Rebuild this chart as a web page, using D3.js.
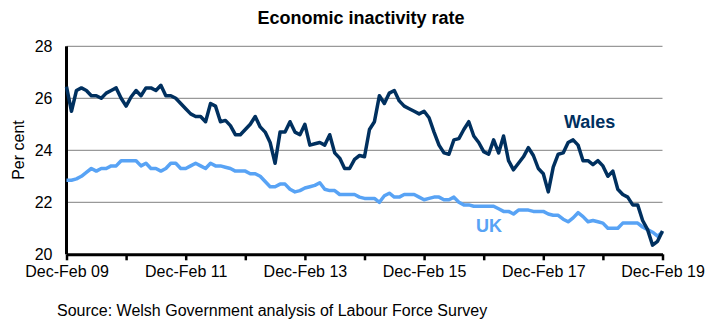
<!DOCTYPE html>
<html>
<head>
<meta charset="utf-8">
<script src="https://cdn.jsdelivr.net/npm/d3@7/dist/d3.min.js"></script>
<style>
  html, body { margin: 0; padding: 0; background: #fff; }
  svg { display: block; font-family: "Liberation Sans", Arial, sans-serif; }
</style>
</head>
<body>
<svg id="chart" width="716" height="333"></svg>
<script>
// Monthly rolling quarters, Dec-Feb 09 to Dec-Feb 19 (index 0..120)
const xTickLabels = ["Dec-Feb 09", "Dec-Feb 11", "Dec-Feb 13", "Dec-Feb 15", "Dec-Feb 17", "Dec-Feb 19"];
const yTicks = [20, 22, 24, 26, 28];

const wales = [
  26.45, 25.5, 26.3, 26.4, 26.3, 26.1, 26.1, 26.0, 26.2, 26.3, 26.4, 26.0,
  25.7, 26.05, 26.3, 26.1, 26.4, 26.4, 26.3, 26.5, 26.1, 26.1, 26.0, 25.8,
  25.6, 25.4, 25.3, 25.3, 25.1, 25.8, 25.7, 25.1, 25.15, 24.95, 24.6, 24.6,
  24.8, 25.0, 25.3, 24.9, 24.7, 24.3, 23.5, 24.7, 24.7, 25.1, 24.7, 24.6,
  25.0, 24.2, 24.25, 24.3, 24.2, 24.6, 23.9, 23.7, 23.3, 23.3, 23.65, 23.8,
  23.75, 24.8, 25.1, 26.1, 25.8, 26.2, 26.3, 25.9, 25.7, 25.6, 25.5, 25.4,
  25.5, 25.25, 24.7, 24.2, 23.9, 23.85, 24.4, 24.45, 24.8, 25.1, 24.55, 24.3,
  23.95, 23.85, 24.4, 23.9, 24.55, 23.6, 23.25, 23.5, 23.75, 24.1, 23.8, 23.3,
  23.1, 22.4, 23.35, 23.85, 23.9, 24.3, 24.4, 24.2, 23.6, 23.6, 23.45, 23.6,
  23.4, 23.0, 23.2, 22.5, 22.3, 22.2, 21.9, 21.9, 21.3, 20.95, 20.35, 20.5,
  20.9
];

const uk = [
  22.85, 22.85, 22.9, 23.0, 23.15, 23.3, 23.2, 23.3, 23.3, 23.4, 23.4, 23.6,
  23.6, 23.6, 23.6, 23.4, 23.5, 23.3, 23.3, 23.2, 23.3, 23.5, 23.5, 23.3,
  23.3, 23.4, 23.5, 23.4, 23.3, 23.5, 23.4, 23.4, 23.35, 23.3, 23.2, 23.2,
  23.2, 23.1, 23.1, 23.0, 22.8, 22.6, 22.6, 22.7, 22.7, 22.5, 22.4, 22.45,
  22.55, 22.6, 22.65, 22.75, 22.5, 22.45, 22.45, 22.3, 22.3, 22.3, 22.3, 22.2,
  22.15, 22.15, 22.15, 22.0, 22.25, 22.35, 22.2, 22.2, 22.3, 22.3, 22.3, 22.2,
  22.1, 22.15, 22.2, 22.2, 22.1, 22.1, 22.2, 22.0, 21.9, 21.9, 21.85, 21.85,
  21.85, 21.85, 21.85, 21.75, 21.65, 21.65, 21.55, 21.7, 21.7, 21.7, 21.65, 21.65,
  21.65, 21.55, 21.5, 21.5, 21.35, 21.25, 21.4, 21.6, 21.45, 21.25, 21.3, 21.25,
  21.2, 21.0, 21.0, 21.0, 21.2, 21.2, 21.2, 21.2, 21.05, 20.95, 20.85, 20.7,
  20.85
];

const svg = d3.select("#chart");
const plotLeft = 66.5, plotRight = 662.5, plotTop = 46.3, plotBottom = 254.3;

const x = d3.scaleLinear().domain([0, wales.length - 1]).range([plotLeft, plotRight]);
const y = d3.scaleLinear().domain([20, 28]).range([plotBottom, plotTop]);

// Title
svg.append("text")
  .attr("x", 361).attr("y", 24)
  .attr("text-anchor", "middle")
  .attr("font-size", 18).attr("font-weight", "bold")
  .attr("fill", "#000")
  .text("Economic inactivity rate");

// Gridlines
svg.append("g")
  .selectAll("line")
  .data(yTicks.filter(d => d > 20))
  .join("line")
  .attr("x1", plotLeft).attr("x2", plotRight)
  .attr("y1", d => y(d)).attr("y2", d => y(d))
  .attr("stroke", "#808080").attr("stroke-width", 1);

// Y axis labels
const yAxis = d3.axisLeft(y).tickValues(yTicks).tickSize(0).tickPadding(14).tickFormat(d3.format("d"));
const gy = svg.append("g").attr("transform", `translate(${plotLeft},0)`).call(yAxis);
gy.select(".domain").remove();
gy.selectAll("text").attr("font-size", 16).attr("fill", "#000")
  .attr("font-family", "Liberation Sans, Arial, sans-serif");

// Y axis line
svg.append("line")
  .attr("x1", plotLeft).attr("x2", plotLeft)
  .attr("y1", plotTop).attr("y2", plotBottom)
  .attr("stroke", "#000").attr("stroke-width", 3);

// X axis
const xAxis = d3.axisBottom(x)
  .tickValues(d3.range(0, wales.length, 12))
  .tickSize(6).tickSizeOuter(0).tickPadding(5)
  .tickFormat(d => (d % 24 === 0 ? xTickLabels[d / 24] : ""));
const gx = svg.append("g").attr("transform", `translate(0,${plotBottom})`).call(xAxis);
gx.select(".domain").attr("stroke", "#000").attr("stroke-width", 3);
gx.selectAll(".tick line").attr("stroke", "#000").attr("stroke-width", 2.5);
gx.selectAll("text").attr("font-size", 16).attr("fill", "#000")
  .attr("font-family", "Liberation Sans, Arial, sans-serif");

// Y axis title
svg.append("text")
  .attr("transform", "translate(24,150) rotate(-90)")
  .attr("text-anchor", "middle")
  .attr("font-size", 16).attr("fill", "#000")
  .text("Per cent");

// Lines
const line = d3.line().x((d, i) => x(i)).y(d => y(d));
svg.append("path").datum(uk)
  .attr("d", line).attr("fill", "none")
  .attr("stroke", "#58a3f5").attr("stroke-width", 3.5)
  .attr("stroke-linejoin", "round");
svg.append("path").datum(wales)
  .attr("d", line).attr("fill", "none")
  .attr("stroke", "#00305f").attr("stroke-width", 3.5)
  .attr("stroke-linejoin", "round");

// Series labels
svg.append("text")
  .attr("x", 564).attr("y", 128)
  .attr("font-size", 18).attr("font-weight", "bold")
  .attr("fill", "#00305f")
  .text("Wales");
svg.append("text")
  .attr("x", 476).attr("y", 232)
  .attr("font-size", 18).attr("font-weight", "bold")
  .attr("fill", "#58a3f5")
  .text("UK");

// Source
svg.append("text")
  .attr("x", 57).attr("y", 316)
  .attr("font-size", 16).attr("fill", "#000")
  .text("Source: Welsh Government analysis of Labour Force Survey");
</script>
</body>
</html>
